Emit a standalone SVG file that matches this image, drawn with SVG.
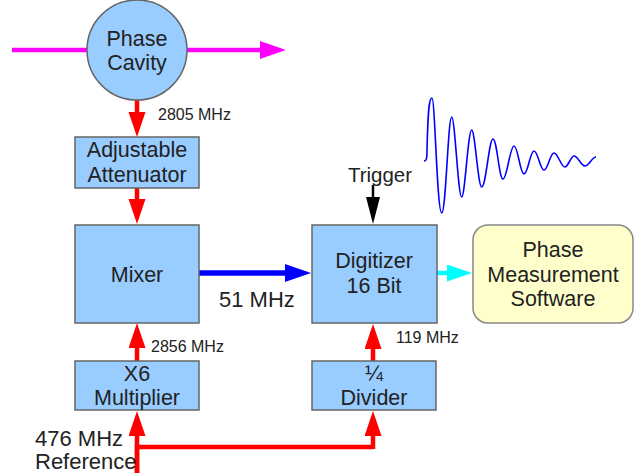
<svg xmlns="http://www.w3.org/2000/svg" width="635" height="473" viewBox="0 0 635 473">
<style>
.box{fill:#99ccff;stroke:#666;stroke-width:1.5}
.sw{fill:#ffffcc;stroke:#888;stroke-width:1.5}
text{font-family:"Liberation Sans",Arial,sans-serif;fill:#222}
.t18{font-size:21.5px;text-anchor:middle}
.t13{font-size:16px}
.t20{font-size:22px}
.red{stroke:#ff0000;stroke-width:4.5;fill:none}
</style>
<defs>
<marker id="ar" markerUnits="userSpaceOnUse" markerWidth="25" markerHeight="18" refX="15" refY="8.5" orient="auto" viewBox="0 0 25 18"><path d="M0,0 L25,8.5 L0,17 z" fill="#ff0000"/></marker>
<marker id="am" markerUnits="userSpaceOnUse" markerWidth="26" markerHeight="18" refX="15" refY="9" orient="auto" viewBox="0 0 26 18"><path d="M0,0 L26,9 L0,18 z" fill="#ff00ff"/></marker>
<marker id="ab" markerUnits="userSpaceOnUse" markerWidth="26" markerHeight="18" refX="15" refY="9" orient="auto" viewBox="0 0 26 18"><path d="M0,0 L26,9 L0,18 z" fill="#0000ff"/></marker>
<marker id="ac" markerUnits="userSpaceOnUse" markerWidth="25" markerHeight="18" refX="15" refY="8.5" orient="auto" viewBox="0 0 25 18"><path d="M0,0 L25,8.5 L0,17 z" fill="#00ffff"/></marker>
<marker id="ak" markerUnits="userSpaceOnUse" markerWidth="27" markerHeight="15" refX="17" refY="7" orient="auto" viewBox="0 0 27 15"><path d="M0,0 L27,7 L0,14 z" fill="#000"/></marker>
</defs>
<g id="connectors">
<line x1="12" y1="50" x2="87" y2="50" stroke="#ff00ff" stroke-width="4.3"/>
<line x1="187" y1="50" x2="275" y2="50" stroke="#ff00ff" stroke-width="4.3" marker-end="url(#am)"/>
<line class="red" x1="137" y1="100" x2="137" y2="127" marker-end="url(#ar)"/>
<line class="red" x1="137" y1="188" x2="137" y2="214" marker-end="url(#ar)"/>
<line class="red" x1="137" y1="361" x2="137" y2="333" marker-end="url(#ar)"/>
<line class="red" x1="373" y1="361" x2="373" y2="334" marker-end="url(#ar)"/>
<polyline class="red" points="137,473 137,447 373,447"/>
<line class="red" x1="137" y1="473" x2="137" y2="421" marker-end="url(#ar)"/>
<line class="red" x1="373" y1="449" x2="373" y2="421" marker-end="url(#ar)"/>
<line x1="199" y1="273" x2="300" y2="273" stroke="#0000ff" stroke-width="5.5" marker-end="url(#ab)"/>
<line x1="437" y1="273" x2="462" y2="273" stroke="#00ffff" stroke-width="4.5" marker-end="url(#ac)"/>
<line x1="373" y1="185" x2="373" y2="214" stroke="#000" stroke-width="2.5" marker-end="url(#ak)"/>
</g>
<g id="cavity">
<circle class="box" cx="137" cy="50" r="50"/>
<text class="t18" x="137" y="46">Phase</text>
<text class="t18" x="137" y="70">Cavity</text>
</g>
<g id="attenuator">
<rect class="box" x="75" y="137" width="124" height="51"/>
<text class="t18" x="137" y="157">Adjustable</text>
<text class="t18" x="137" y="182">Attenuator</text>
</g>
<g id="mixer">
<rect class="box" x="75" y="225" width="124" height="98"/>
<text class="t18" x="137" y="282">Mixer</text>
</g>
<g id="digitizer">
<rect class="box" x="312" y="225" width="125" height="98"/>
<text class="t18" x="374" y="268">Digitizer</text>
<text class="t18" x="374" y="293">16 Bit</text>
</g>
<g id="multiplier">
<rect class="box" x="75" y="361" width="124" height="49"/>
<text class="t18" x="137" y="381">X6</text>
<text class="t18" x="137" y="405">Multiplier</text>
</g>
<g id="divider">
<rect class="box" x="312" y="361" width="124" height="49"/>
<text class="t18" x="374" y="381">¼</text>
<text class="t18" x="374" y="405">Divider</text>
</g>
<g id="software">
<rect class="sw" x="473" y="225" width="160" height="98" rx="15" ry="15"/>
<text class="t18" x="553" y="257">Phase</text>
<text class="t18" x="553" y="282">Measurement</text>
<text class="t18" x="553" y="306">Software</text>
</g>
<g id="labels">
<text class="t13" x="158" y="120">2805 MHz</text>
<text class="t13" x="151" y="352">2856 MHz</text>
<text class="t13" x="396" y="343">119 MHz</text>
<text class="t20" x="219" y="307">51 MHz</text>
<text class="t20" x="35" y="446">476 MHz</text>
<text class="t20" x="35" y="469">Reference</text>
<text class="t18" x="380" y="182" style="font-size:20.5px">Trigger</text>
</g>
<g id="waveform">
<path fill="none" stroke="#0000ff" stroke-width="1.6" d="M424,161 C426,161 427,160 427,150 C428,110 429,98 432,98 C435,98 437,213 441.7,213 C446,213 448,117 451.7,117 C455,117 458,197 461.7,197 C465,197 468,130 471.7,130 C475,130 478,187 481.7,187 C486,187 489,139 493,139 C497,139 499,179 503,179 C507,179 510,146 514,146 C518,146 520,174 524,174 C528,174 530,151 534,151 C538,151 540,170 544,170 C548,170 550,153 554,153 C558,153 561,167 565,167 C568,167 571,156 574,156 C578,156 581,166 585,166 C589,166 592,157 596,157"/>
</g>
</svg>
